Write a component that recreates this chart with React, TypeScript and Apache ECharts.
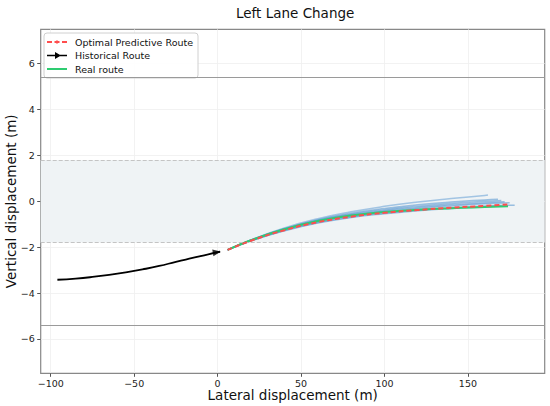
import React, { useEffect, useRef } from "react";
import * as echarts from "echarts";

const FONT = "DejaVu Sans";

const X_TICKS = [-100, -50, 0, 50, 100, 150];
const Y_TICKS = [-6, -4, -2, 0, 2, 4, 6];

const HIST_X = [-96, -85, -75, -65, -55, -45, -35, -25, -15, -5, 1.5];
const HIST_Y = [-3.42, -3.37, -3.3, -3.21, -3.1, -2.97, -2.82, -2.64, -2.47, -2.3, -2.2];
const HIST_ARROW = [-0.5, -2.22];

const PRED_X = [6, 20, 40, 60, 80, 100, 120, 140, 160, 174];
const PRED_Y = [-2.12, -1.72, -1.26, -0.91, -0.67, -0.5, -0.38, -0.28, -0.2, -0.14];

const REAL_X = [6, 20, 40, 60, 80, 100, 120, 140, 160, 174];
const REAL_Y = [-2.12, -1.7, -1.22, -0.86, -0.62, -0.47, -0.37, -0.3, -0.25, -0.22];

const FAN_X = [6, 20, 40, 60, 80, 100, 120, 140, 160];
const FAN_END_X = [162, 168, 170, 172, 175, 178, 170];
const FAN_Y = [
  [-2.12, -1.68, -1.16, -0.76, -0.46, -0.22, -0.03, 0.12, 0.25, 0.27],
  [-2.12, -1.69, -1.19, -0.8, -0.52, -0.31, -0.15, -0.03, 0.06, 0.09],
  [-2.12, -1.7, -1.21, -0.83, -0.56, -0.37, -0.22, -0.1, 0.0, 0.04],
  [-2.12, -1.7, -1.22, -0.85, -0.59, -0.41, -0.27, -0.15, -0.06, -0.02],
  [-2.12, -1.71, -1.24, -0.88, -0.63, -0.45, -0.31, -0.2, -0.11, -0.06],
  [-2.12, -1.72, -1.27, -0.92, -0.68, -0.51, -0.38, -0.28, -0.21, -0.17],
  [-2.12, -1.73, -1.29, -0.95, -0.71, -0.54, -0.41, -0.31, -0.24, -0.21],
];

const LANE_EDGES = [5.4, -5.4];
const LANE_CENTER_BAND = [-1.8, 1.8];

const ICON_PRED = "path://M0,3h5v2h-5zM7.5,3h5v2h-5zM15,3h5v2h-5zM10,2L11.8,4L10,6L8.2,4Z";
const ICON_HIST = "path://M0,3.2h20v1.6h-20zM8,0.5L14,4L8,7.5Z";
const ICON_REAL = "path://M0,3h20v2h-20z";

const zip = (xs: number[], ys: number[]) => xs.map((x, i) => [x, ys[i]]);
const fmt = (v: number) => (v < 0 ? "\u2212" + Math.abs(v) : String(v));

export default function App() {
  const ref = useRef<HTMLDivElement>(null);
  useEffect(() => {
    document.body.style.margin = "0";
    const chart = echarts.init(ref.current!, null, { renderer: "svg" });

    const fanSeries = FAN_Y.map((ys, k) => ({
      type: "line",
      name: "fan" + k,
      data: zip([...FAN_X, FAN_END_X[k]], ys),
      showSymbol: false,
      symbol: "none",
      smooth: true,
      z: 3,
      lineStyle: {
        color: k === 0 ? "rgba(110,165,215,0.6)" : "rgba(80,145,205,0.55)",
        width: 1.5,
      },
      silent: true,
    }));

    chart.setOption({
      animation: false,
      textStyle: { fontFamily: FONT },
      title: {
        text: "Left Lane Change",
        left: 231,
        top: 1,
        textStyle: { fontFamily: FONT, fontSize: 13.5, fontWeight: "normal", color: "#111" },
      },
      legend: {
        orient: "vertical",
        left: 44,
        top: 33,
        padding: [4, 5, 4, 3],
        itemWidth: 20,
        itemHeight: 8,
        itemGap: 3.5,
        backgroundColor: "rgba(255,255,255,0.9)",
        borderColor: "#d0d0d0",
        borderWidth: 1,
        borderRadius: 3,
        data: [
          { name: "Optimal Predictive Route", icon: ICON_PRED },
          { name: "Historical Route", icon: ICON_HIST },
          { name: "Real route", icon: ICON_REAL },
        ],
        textStyle: { fontFamily: FONT, fontSize: 9.5, color: "#111", padding: [0, 0, 0, 3] },
      },
      grid: {
        left: 40.7,
        right: 5.3,
        top: 29.3,
        bottom: 32.7,
        outerBoundsMode: "none",
        containLabel: false,
        show: true,
        borderColor: "#888",
        borderWidth: 1.2,
        backgroundColor: "transparent",
      },
      xAxis: {
        type: "value",
        min: -106,
        max: 196,
        name: "Lateral displacement (m)",
        nameLocation: "middle",
        nameGap: 15,
        nameMoveOverlap: false,
        nameTextStyle: { fontFamily: FONT, fontSize: 13.5, color: "#111" },
        axisLine: { show: false, onZero: false },
        axisTick: {
          show: true,
          length: 3.5,
          lineStyle: { color: "#555" },
          customValues: X_TICKS,
        },
        axisLabel: {
          fontFamily: FONT,
          fontSize: 9.5,
          color: "#222",
          margin: 5,
          customValues: X_TICKS,
          formatter: fmt,
        },
        splitLine: { show: true, lineStyle: { color: "#efefef", width: 0.8 } },
      },
      yAxis: {
        type: "value",
        min: -7.5,
        max: 7.5,
        name: "Vertical displacement (m)",
        nameLocation: "middle",
        nameGap: 23,
        nameMoveOverlap: false,
        nameTextStyle: { fontFamily: FONT, fontSize: 13.5, color: "#111" },
        axisLine: { show: false, onZero: false },
        axisTick: {
          show: true,
          length: 3.5,
          lineStyle: { color: "#555" },
          customValues: Y_TICKS,
        },
        axisLabel: {
          fontFamily: FONT,
          fontSize: 9.5,
          color: "#222",
          margin: 6,
          customValues: Y_TICKS,
          formatter: fmt,
        },
        splitLine: { show: true, lineStyle: { color: "#efefef", width: 0.8 } },
      },
      series: [
        {
          type: "line",
          name: "lanes",
          data: [],
          z: 1,
          silent: true,
          markArea: {
            silent: true,
            itemStyle: { color: "#eff3f5" },
            data: [[{ yAxis: LANE_CENTER_BAND[0] }, { yAxis: LANE_CENTER_BAND[1] }]],
          },
          markLine: {
            silent: true,
            symbol: ["none", "none"],
            label: { show: false },
            data: [
              ...LANE_EDGES.map((v) => ({
                yAxis: v,
                lineStyle: { color: "#9a9a9a", width: 1.2, type: "solid" },
              })),
              ...LANE_CENTER_BAND.map((v) => ({
                yAxis: v,
                lineStyle: { color: "#c4c4c4", width: 1, type: [4, 2] },
              })),
            ],
          },
        },
        ...fanSeries,
        {
          type: "line",
          name: "Real route",
          data: zip(REAL_X, REAL_Y),
          showSymbol: false,
          symbol: "none",
          smooth: true,
          z: 4,
          lineStyle: { color: "#2ecc71", width: 2 },
          itemStyle: { color: "#2ecc71" },
        },
        {
          type: "line",
          name: "Optimal Predictive Route",
          data: zip(PRED_X, PRED_Y),
          showSymbol: false,
          symbol: "none",
          smooth: true,
          z: 5,
          lineStyle: { color: "#ff4d4d", width: 2, type: [5, 3] },
          itemStyle: { color: "#ff4d4d" },
        },
        {
          type: "line",
          name: "Historical Route",
          data: zip(HIST_X, HIST_Y),
          showSymbol: false,
          symbol: "none",
          smooth: true,
          z: 5,
          lineStyle: { color: "#000", width: 1.8 },
          itemStyle: { color: "#000" },
        },
        {
          type: "scatter",
          name: "arrowhead",
          data: [HIST_ARROW],
          symbol: "triangle",
          symbolSize: [7, 8],
          symbolRotate: -80,
          z: 6,
          silent: true,
          itemStyle: { color: "#000" },
        },
      ],
    });
    return () => chart.dispose();
  }, []);
  return <div ref={ref} style={{ width: 550, height: 406 }} />;
}
